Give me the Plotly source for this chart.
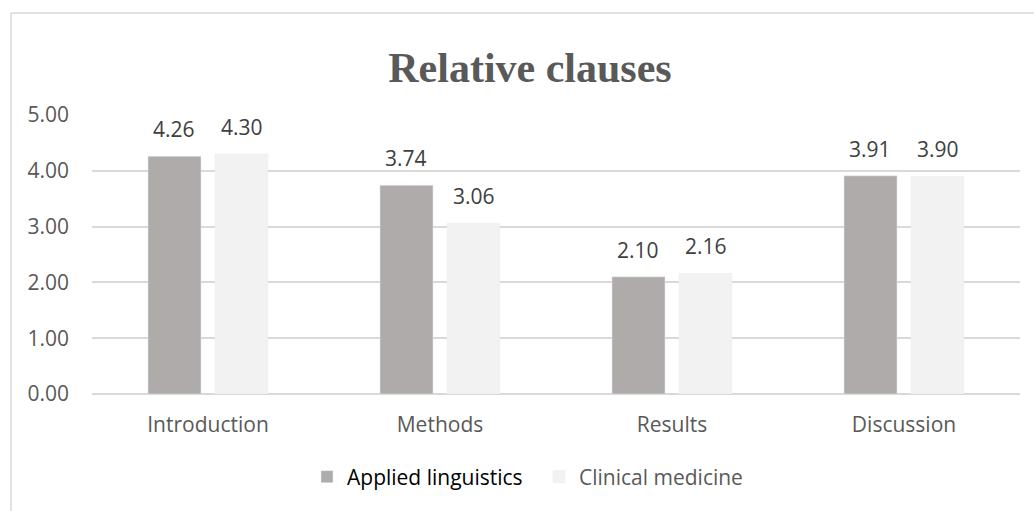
import plotly.graph_objects as go

categories = ["Introduction", "Methods", "Results", "Discussion"]
applied = [4.26, 3.74, 2.10, 3.91]
clinical = [4.30, 3.06, 2.16, 3.90]
tick_vals = [0, 1, 2, 3, 4, 5]
tick_text = ["0.00", "1.00", "2.00", "3.00", "4.00", "5.00"]

FONT = "Open Sans"
GRAY = "#595959"
FS = 21

L, R, T, B = 92, 14, 115, 117
W, H = 1034, 511
pw = W - L - R
ph = H - T - B
BARGAP = 0.422
GROUPGAP = 0.209

def px_x(p):
    return (p - L) / pw

def px_y(p):
    return (H - B - p) / ph

fig = go.Figure()
fig.add_trace(go.Bar(
    x=categories, y=applied, name="Applied linguistics",
    marker=dict(color="#AFABAB"), legend="legend",
))
fig.add_trace(go.Bar(
    x=categories, y=clinical, name="Clinical medicine",
    marker=dict(color="#F2F2F2"), legend="legend2",
))

# data labels above bars
cat_px = pw / len(categories)
offset = (1 - BARGAP) * cat_px / 4
for series, sign in ((applied, -1), (clinical, 1)):
    for c, v in zip(categories, series):
        fig.add_annotation(x=c, y=v, text=f"{v:.2f}", showarrow=False,
                           xshift=sign * offset, yshift=27, yanchor="middle",
                           font=dict(family=FONT, size=FS, color="#404040"))

fig.update_layout(
    width=W, height=H,
    margin=dict(l=L, r=R, t=T, b=B),
    paper_bgcolor="white", plot_bgcolor="white",
    barmode="group", bargap=BARGAP, bargroupgap=GROUPGAP,
    title=dict(text="<b>Relative clauses</b>", xref="container", x=530 / W, xanchor="center",
               y=1 - 67 / H, yanchor="middle",
               font=dict(family="Liberation Serif", size=42, color=GRAY)),
    xaxis=dict(showgrid=False, showline=False, ticks="", ticklabelstandoff=16,
               tickfont=dict(family=FONT, size=FS, color=GRAY)),
    yaxis=dict(range=[0, 5], tickvals=tick_vals, ticktext=tick_text,
               showgrid=True, gridcolor="#D9D9D9", gridwidth=1.5,
               zeroline=True, zerolinecolor="#D9D9D9", zerolinewidth=1.5,
               showline=False, ticks="", ticklabelstandoff=22,
               tickfont=dict(family=FONT, size=FS, color=GRAY)),
    legend=dict(orientation="h", x=px_x(528), xanchor="right", y=px_y(477), yanchor="middle",
                font=dict(family=FONT, size=FS, color="#000000"), bgcolor="rgba(0,0,0,0)"),
    legend2=dict(orientation="h", x=px_x(539), xanchor="left", y=px_y(477), yanchor="middle",
                 font=dict(family=FONT, size=FS, color=GRAY), bgcolor="rgba(0,0,0,0)"),
    showlegend=True,
)

# chart border (top and left visible)
fig.add_shape(type="line", xref="paper", yref="paper",
              x0=px_x(11), x1=px_x(1040), y0=px_y(13), y1=px_y(13),
              line=dict(color="#D9D9D9", width=1.5))
fig.add_shape(type="line", xref="paper", yref="paper",
              x0=px_x(11), x1=px_x(11), y0=px_y(13), y1=px_y(520),
              line=dict(color="#D9D9D9", width=1.5))

fig.write_html("out.html", config={"displayModeBar": False},
               post_script="document.body.style.margin='0px';")
